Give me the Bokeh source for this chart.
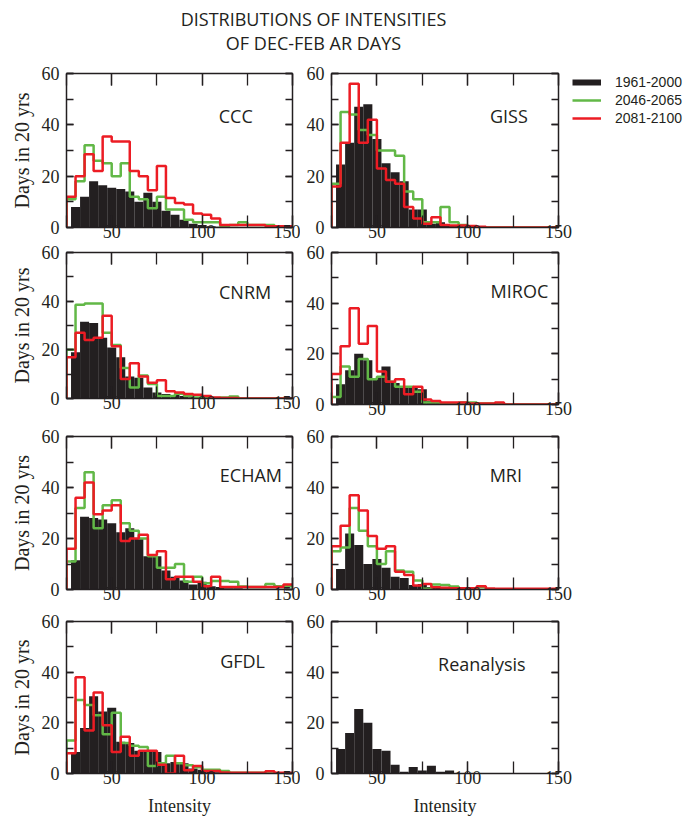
from bokeh.plotting import figure
from bokeh.layouts import column, row
from bokeh.models import (Range1d, LinearAxis, SingleIntervalTicker, Label,
                          Legend, LegendItem)
from bokeh.embed import file_html
from bokeh.resources import INLINE
from bokeh.core.properties import value

# ---------------- data ----------------
title_lines = ["DISTRIBUTIONS OF INTENSITIES", "OF DEC-FEB AR DAYS"]
series_names = ["1961-2000", "2046-2065", "2081-2100"]
bin_width = 5
# black bars: centres of the 1961-2000 bins
bar_centers = [30, 35, 40, 45, 50, 55, 60, 65, 70, 75, 80, 85, 90, 95, 100,
               105, 110, 115, 120, 125, 130, 135, 140, 145]
# step lines: left edges of the future-period bins
bin_lefts = [25, 30, 35, 40, 45, 50, 55, 60, 65, 70, 75, 80, 85, 90, 95, 100,
             105, 110, 115, 120, 125, 130, 135, 140, 145]

ccc_black = [8, 12, 18, 16.5, 15.5, 15, 14, 10, 13.5, 10, 6.5, 5, 3, 1.5, 1,
             0.5, 0.3, 0, 0, 0, 0, 0, 0, 0]
ccc_green = [11, 18, 32, 26, 25, 20, 25, 12, 11, 7.5, 12, 7, 7, 3, 2, 2, 2,
             0.5, 1, 2, 1, 1, 1, 0.5, 0.5]
ccc_red = [12, 20, 28.5, 22, 35.5, 33.5, 33.5, 22, 20, 14.5, 24, 11.5, 9.5, 9,
           5.5, 5, 3.5, 1, 1, 1, 1, 1, 0.5, 0.5, 0.5]

giss_black = [24.5, 33, 47, 48, 34.5, 25, 21.5, 18, 7, 7, 1.5, 2, 1, 0.8, 0.5,
              0, 0, 0, 0, 0, 0, 0, 0, 0]
giss_green = [17, 45, 44, 38, 36, 30, 30, 28, 14, 11, 2, 2, 8, 2, 1, 0.4, 0,
              0, 0, 0, 0, 0, 0, 0, 0]
giss_red = [16, 33, 56, 33, 42, 23, 18.5, 17, 8, 3.5, 1.5, 4, 1, 0.8, 0.8, 0.6,
            0.3, 0, 0, 0, 0, 0, 0, 0, 0]

cnrm_black = [19, 31.5, 31, 25, 21, 17, 9, 8.5, 4.5, 2.5, 1.8, 1.4, 1, 0.5,
              0.5, 0.5, 0.3, 0, 0, 0, 0, 0, 0, 0]
cnrm_green = [20, 38.5, 39, 39, 27, 22, 12.5, 4.5, 9.5, 6, 1, 1, 2, 1, 0.4,
              0.4, 0.2, 0.4, 0.8, 0, 0, 0, 0, 0, 0]
cnrm_red = [17, 27, 24, 25, 34, 21.5, 8, 14.5, 9, 6.5, 7.5, 3, 2.5, 1.8, 1.5,
            1, 0.4, 0.2, 0.2, 0, 0, 0, 0, 0, 0]

miroc_black = [8, 13.5, 20, 17.5, 10.5, 15, 8.5, 7, 6.5, 6, 1.5, 0.8, 0.5,
               0.5, 0.3, 0, 0, 0, 0, 0, 0, 0, 0, 0]
miroc_green = [3, 15, 11, 18, 10, 11, 9, 7, 7, 5, 0.8, 0.8, 0.4, 0.4, 0.8,
               0.8, 0.4, 0.4, 0.4, 0, 0, 0, 0, 0, 0]
miroc_red = [12, 23, 38, 24, 31, 13, 9, 10, 4, 7, 2, 1.4, 0.8, 0.8, 0.8, 0.4,
             0.4, 0.4, 0.8, 0, 0, 0, 0, 0, 0]

echam_black = [11.5, 28.5, 28, 27.5, 26, 22.5, 24, 20, 13, 13, 7.5, 5, 3.5, 2,
               3, 1.3, 1, 0.5, 0.5, 0.3, 0.3, 0.3, 0.3, 0.3]
echam_green = [11, 32, 46, 24, 33, 35, 26, 23, 20, 13, 8.5, 8.5, 10, 3, 5,
               2.5, 3.3, 3.3, 3, 1.2, 1, 1, 2.2, 1.3, 1.3]
echam_red = [16, 36, 42, 29.5, 31, 33, 19, 20, 21.5, 13.5, 15, 4, 5, 5, 3,
             1.3, 5, 1, 1, 1, 1, 1, 1, 1, 2]

mri_black = [8, 22, 17.5, 10, 12, 8.5, 5, 4.5, 1.8, 2.2, 1, 1, 0.5, 0.3, 0,
             0, 0, 0, 0, 0, 0, 0, 0, 0]
mri_green = [15, 16.5, 32, 23, 17, 10, 15, 7.5, 7, 3.5, 0.3, 2, 1.8, 1.2, 0.5,
             0.5, 0.9, 0, 0, 0, 0, 0, 0, 0, 0]
mri_red = [17, 25, 37, 31, 21, 16, 17, 7, 5.7, 1.6, 2.2, 0.9, 0.7, 0.5, 0.5,
           0.5, 1.3, 0.4, 0.3, 0.3, 0.3, 0.3, 0.3, 0.3, 0.3]

gfdl_black = [8.5, 18, 30.5, 24.5, 26, 12.5, 12, 9, 8.5, 8.5, 4, 4.5, 4, 2,
              1.5, 1, 0.5, 0.5, 0.3, 0.3, 0.3, 0, 0, 0]
gfdl_green = [13, 29, 27, 23, 15.5, 24, 12, 11, 10.5, 3, 4, 7, 4, 3.3, 2.5,
              1.5, 1.5, 1, 0.3, 0.3, 0.3, 0.3, 0, 0, 0]
gfdl_red = [8, 38, 17, 32, 19, 8.5, 14.5, 7, 9, 9, 3.5, 0, 7, 1.3, 3, 1, 1,
            0.4, 0.3, 0.3, 0.3, 0.3, 0.9, 0.3, 0.3]

rean_black = [9.7, 16, 25.5, 20, 9.7, 9, 3.5, 0.7, 2.6, 1.2, 3.1, 0.7, 1.2, 0,
              0, 0, 0, 0, 0, 0, 0, 0, 0, 0]

# ---------------- style ----------------
INK = "#231f20"
GREEN = "#62b847"
RED = "#ec1c24"
SERIF = "Liberation Serif"
SANS = "Open Sans"

X_START, X_END = 25, 150
Y_START, Y_END = 0, 60


def style_axis(ax, tick_len, show_labels=True):
    ax.axis_line_color = INK
    ax.axis_line_width = 1.5
    ax.major_tick_line_color = INK
    ax.minor_tick_line_color = INK
    ax.major_tick_line_width = 1.3
    ax.minor_tick_line_width = 1.3
    ax.major_tick_in = tick_len
    ax.major_tick_out = 0
    ax.minor_tick_in = tick_len
    ax.minor_tick_out = 0
    ax.major_label_text_font = SERIF
    if show_labels:
        ax.major_label_text_font_size = "18px"
        ax.major_label_text_color = INK
    else:
        ax.major_label_text_font_size = "1px"
        ax.major_label_text_color = None
        ax.major_label_standoff = 0


def make_panel(name, label_xy, black, green=None, red=None, left_col=True,
               top=11, frame_h=153, bottom=21, xlabel=False):
    p = figure(frame_width=226 if left_col else 227, frame_height=frame_h,
               min_border_left=66 if left_col else 31,
               min_border_right=8 if left_col else 14,
               min_border_top=top, min_border_bottom=bottom,
               x_range=Range1d(X_START, X_END), y_range=Range1d(Y_START, Y_END),
               toolbar_location=None, output_backend="svg",
               x_axis_type=None, y_axis_type=None)
    p.outline_line_color = None
    p.xgrid.visible = False
    p.ygrid.visible = False
    p.background_fill_color = "white"
    p.border_fill_color = "white"

    xt = dict(interval=50, num_minor_ticks=2)
    yt = dict(interval=20, num_minor_ticks=2)

    xb = LinearAxis(ticker=SingleIntervalTicker(**xt))
    style_axis(xb, 12)
    xb.major_label_standoff = -3
    if xlabel:
        xb.axis_label = "Intensity"
        xb.axis_label_text_font = SERIF
        xb.axis_label_text_font_size = "18px"
        xb.axis_label_text_font_style = "normal"
        xb.axis_label_text_color = INK
        xb.axis_label_standoff = 9
    p.add_layout(xb, "below")

    xa = LinearAxis(ticker=SingleIntervalTicker(**xt))
    style_axis(xa, 12, show_labels=False)
    p.add_layout(xa, "above")

    yl = LinearAxis(ticker=SingleIntervalTicker(**yt))
    style_axis(yl, 7)
    yl.major_label_standoff = 7
    if left_col:
        yl.axis_label = "Days in 20 yrs"
        yl.axis_label_text_font = SERIF
        yl.axis_label_text_font_size = "20px"
        yl.axis_label_text_font_style = "normal"
        yl.axis_label_text_color = INK
        yl.axis_label_standoff = 6
    p.add_layout(yl, "left")

    yr = LinearAxis(ticker=SingleIntervalTicker(**yt))
    style_axis(yr, 7, show_labels=False)
    p.add_layout(yr, "right")

    p.vbar(x=bar_centers, width=bin_width, bottom=0, top=black,
           fill_color=INK, line_color=None)

    step_x = [bin_lefts[0]] + bin_lefts + [bin_lefts[-1] + bin_width]
    for vals, col in ((green, GREEN), (red, RED)):
        if vals is None:
            continue
        step_y = [0] + list(vals) + [vals[-1]]
        p.step(step_x, step_y, mode="after", line_color=col, line_width=2.5)

    p.add_layout(Label(x=label_xy[0], y=label_xy[1], text=name,
                       text_font=SANS, text_font_size="18px",
                       text_color=INK, text_align="center",
                       text_baseline="middle"))
    return p


# ---------------- title ----------------
tfig = figure(width=692, height=54, x_range=Range1d(0, 692),
              y_range=Range1d(0, 54), min_border=0, toolbar_location=None,
              output_backend="svg", x_axis_type=None, y_axis_type=None)
tfig.outline_line_color = None
tfig.grid.visible = False
tfig.text(x=[313, 313], y=[36, 12], text=title_lines, text_align="center",
          text_baseline="middle", text_font=value(SANS),
          text_font_size="18px", text_color=INK)

# ---------------- legend ----------------
lfig = figure(width=120, height=187, x_range=Range1d(0, 1),
              y_range=Range1d(0, 1), min_border_top=19, min_border_left=0,
              min_border_right=0, min_border_bottom=0, toolbar_location=None,
              output_backend="svg", x_axis_type=None, y_axis_type=None)
lfig.outline_line_color = None
lfig.grid.visible = False
# legend proxies (kept outside the visible range; only their legend glyphs show)
proxy_x = [-2, -1]
proxy_y = [-2, -1]
r_black = lfig.line(x=proxy_x, y=proxy_y, line_color=INK, line_width=6)
r_green = lfig.line(x=proxy_x, y=proxy_y, line_color=GREEN, line_width=2.5)
r_red = lfig.line(x=proxy_x, y=proxy_y, line_color=RED, line_width=2.5)
legend = Legend(items=[LegendItem(label=series_names[0], renderers=[r_black]),
                       LegendItem(label=series_names[1], renderers=[r_green]),
                       LegendItem(label=series_names[2], renderers=[r_red])],
                location="top_left", glyph_width=29, glyph_height=18,
                label_height=18, spacing=0, padding=0, margin=0,
                label_standoff=14, border_line_color=None,
                background_fill_alpha=0, label_text_font="Liberation Sans",
                label_text_font_size="14px", label_text_color=INK)
lfig.add_layout(legend)

# ---------------- panels ----------------
p_ccc = make_panel("CCC", (118.6, 43.6), ccc_black, ccc_green, ccc_red,
                   True, top=12, frame_h=154, bottom=21)
p_giss = make_panel("GISS", (122.7, 43.6), giss_black, giss_green, giss_red,
                    False, top=12, frame_h=154, bottom=21)
p_cnrm = make_panel("CNRM", (123.8, 43.6), cnrm_black, cnrm_green, cnrm_red,
                    True, top=11, frame_h=146, bottom=27)
p_miroc = make_panel("MIROC", (128.5, 44.7), miroc_black, miroc_green,
                     miroc_red, False, top=11, frame_h=152, bottom=21)
p_echam = make_panel("ECHAM", (127, 45), echam_black, echam_green, echam_red,
                     True, top=11, frame_h=153, bottom=21)
p_mri = make_panel("MRI", (121, 45), mri_black, mri_green, mri_red,
                   False, top=11, frame_h=153, bottom=21)
p_gfdl = make_panel("GFDL", (122.4, 44.3), gfdl_black, gfdl_green, gfdl_red,
                    True, top=11, frame_h=152, bottom=47, xlabel=True)
p_rean = make_panel("Reanalysis", (107.8, 43.3), rean_black, None, None,
                    False, top=11, frame_h=152, bottom=47, xlabel=True)

layout = column(tfig,
                row(p_ccc, p_giss, lfig),
                row(p_cnrm, p_miroc),
                row(p_echam, p_mri),
                row(p_gfdl, p_rean))

open("out.html", "w").write(file_html(layout, INLINE))
